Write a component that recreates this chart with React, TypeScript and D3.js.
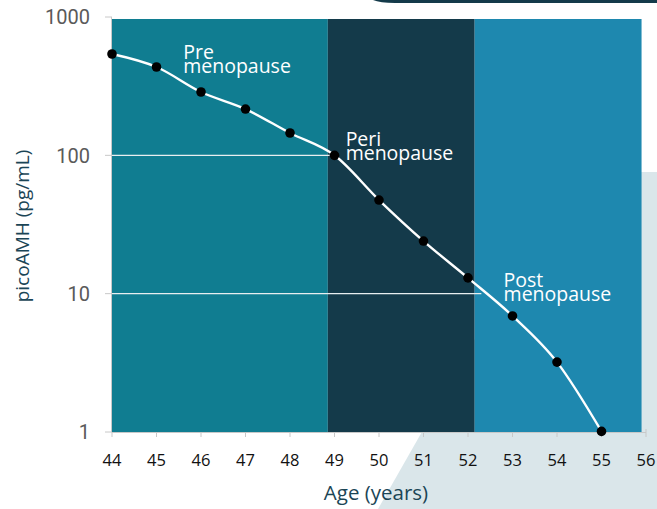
import React from "react";
import * as d3 from "d3";

const ages = [44, 45, 46, 47, 48, 49, 50, 51, 52, 53, 54, 55];
const amh = [540, 435, 287, 216, 145, 100, 47.5, 24, 13, 6.9, 3.2, 1.01];
const xTicks = [44, 45, 46, 47, 48, 49, 50, 51, 52, 53, 54, 55, 56];
const yTicks = [1, 10, 100, 1000];
const phases = [
  { name: "Pre", start: 44, end: 48.85, color: "#107d91", labelAge: 45.6, labelVal: 500 },
  { name: "Peri", start: 48.85, end: 52.15, color: "#143a4a", labelAge: 49.25, labelVal: 117 },
  { name: "Post", start: 52.15, end: 55.9, color: "#1e88af", labelAge: 52.8, labelVal: 11.2 },
];
const gridLines = [
  { value: 100, endAge: 49 },
  { value: 10, endAge: 52.3 },
];

const W = 657;
const H = 509;

export default function App() {
  const x = d3.scaleLinear().domain([44, 56]).range([112, 646]);
  const y = d3.scaleLog().domain([1, 1000]).range([432, 17]);
  const bandTop = y(1000) + 2;
  const line = d3
    .line<number>()
    .x((_, i) => x(ages[i]))
    .y((d) => y(d))
    .curve(d3.curveMonotoneX);
  const labelFont = "'Open Sans', 'Noto Sans', sans-serif";
  return (
    <svg width={W} height={H} style={{ position: "absolute", left: 0, top: 0 }}>
      <rect x={0} y={0} width={W} height={H} fill="#ffffff" />
      {/* decorative shapes */}
      <path d="M373,0 L657,0 L657,3 L395,3 Q380,3 373,0 Z" fill="#143a4a" />
      <path d="M570,172 L657,172 L657,509 L378,509 Z" fill="#dae6ea" />
      {/* bands */}
      {phases.map((p) => (
        <rect
          key={p.name}
          x={x(p.start)}
          y={bandTop}
          width={x(p.end) - x(p.start)}
          height={y(1) - bandTop}
          fill={p.color}
        />
      ))}
      {/* gridlines */}
      {gridLines.map((g) => (
        <line
          key={g.value}
          x1={x(44)}
          x2={x(g.endAge)}
          y1={y(g.value)}
          y2={y(g.value)}
          stroke="#e8eef0"
          strokeWidth={1.3}
        />
      ))}
      {/* y axis */}
      <line x1={x(44) - 0.5} x2={x(44) - 0.5} y1={y(1000)} y2={y(1)} stroke="#c8c8c8" strokeWidth={1} />
      {yTicks.map((t) => (
        <g key={t}>
          <line x1={x(44) - 7} x2={x(44)} y1={y(t)} y2={y(t)} stroke="#c8c8c8" strokeWidth={1} />
          <text
            x={90}
            y={y(t)}
            dy="0.36em"
            textAnchor="end"
            fontFamily="Roboto, sans-serif"
            fontSize={20}
            fill="#5a5a5a"
          >
            {t}
          </text>
        </g>
      ))}
      {/* x axis */}
      <line x1={x(44)} x2={x(56)} y1={y(1) + 0.5} y2={y(1) + 0.5} stroke="#c8c8c8" strokeWidth={1.2} />
      <line x1={x(56)} x2={x(56)} y1={y(1) - 3} y2={y(1)} stroke="#c8c8c8" strokeWidth={1} />
      {xTicks.map((t) => (
        <g key={t}>
          <line x1={x(t)} x2={x(t)} y1={y(1)} y2={y(1) + 5} stroke="#c8c8c8" strokeWidth={1} />
          <text
            x={x(t)}
            y={466}
            textAnchor="middle"
            fontFamily={labelFont}
            fontSize={16.5}
            fill="#111111"
          >
            {t}
          </text>
        </g>
      ))}
      {/* line */}
      <path d={line(amh) || ""} fill="none" stroke="#ffffff" strokeWidth={2.4} />
      {amh.map((v, i) => (
        <circle key={i} cx={x(ages[i])} cy={y(v)} r={4.8} fill="#000000" />
      ))}
      {/* phase labels */}
      {phases.map((p) => (
        <text
          key={p.name}
          x={x(p.labelAge)}
          y={y(p.labelVal)}
          fontFamily={labelFont}
          fontSize={19.5}
          fill="#ffffff"
        >
          <tspan x={x(p.labelAge)}>{p.name}</tspan>
          <tspan x={x(p.labelAge)} dy={14}>menopause</tspan>
        </text>
      ))}
      {/* titles */}
      <text
        transform={`translate(29, 226) rotate(-90)`}
        textAnchor="middle"
        fontFamily={labelFont}
        fontSize={19}
        fill="#1b4556"
      >
        picoAMH (pg/mL)
      </text>
      <text
        x={376}
        y={500}
        textAnchor="middle"
        fontFamily={labelFont}
        fontSize={20.5}
        fill="#1b4556"
      >
        Age (years)
      </text>
    </svg>
  );
}
